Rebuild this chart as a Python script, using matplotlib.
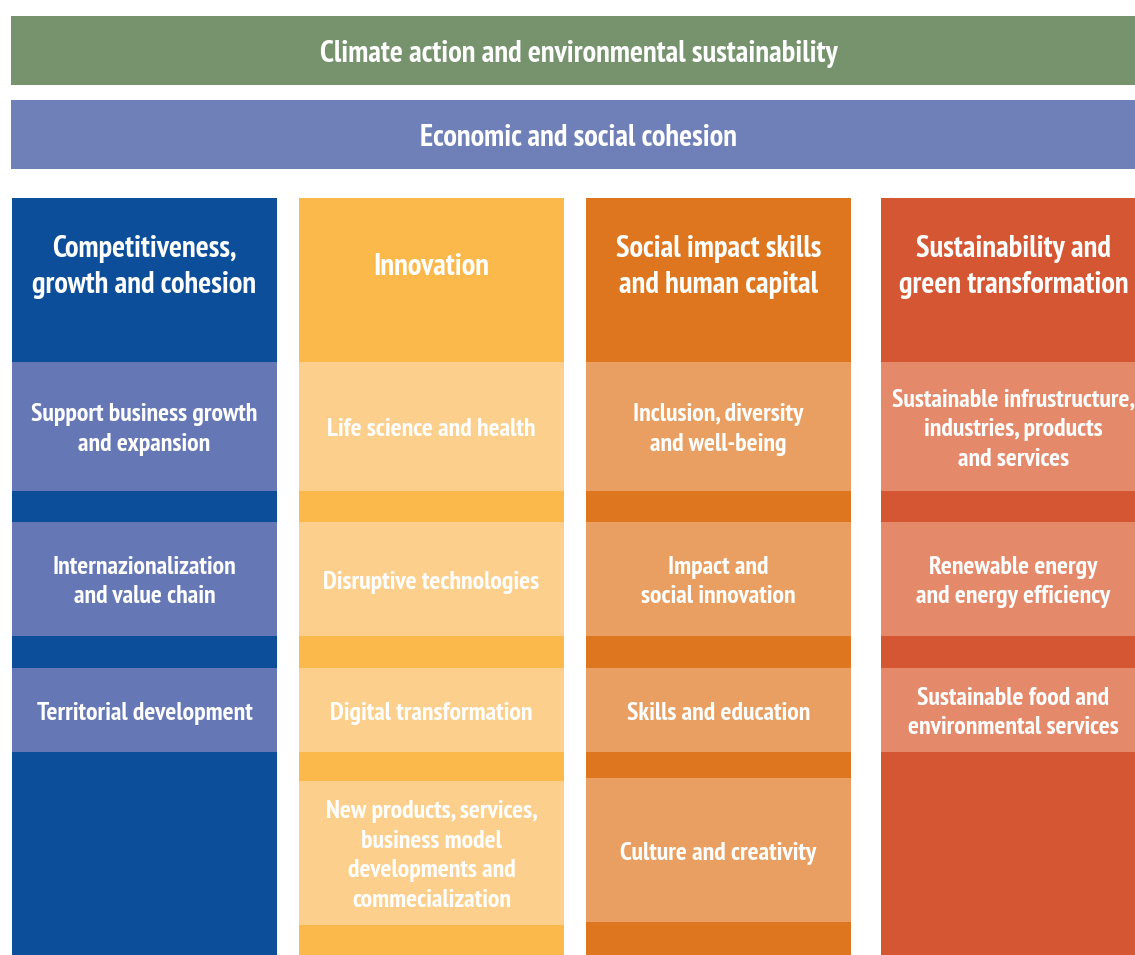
import matplotlib.pyplot as plt
from matplotlib.patches import Rectangle

# Banner texts
banners = ['Climate action and environmental sustainability',
           'Economic and social cohesion']
banner_colors = ['#76936E', '#6F80B9']

# Columns: title and the items listed under it
titles = ['Competitiveness,\ngrowth and cohesion',
          'Innovation',
          'Social impact skills\nand human capital',
          'Sustainability and\ngreen transformation']
items = [
    ['Support business growth\nand expansion',
     'Internazionalization\nand value chain',
     'Territorial development'],
    ['Life science and health',
     'Disruptive technologies',
     'Digital transformation',
     'New products, services,\nbusiness model\ndevelopments and\ncommecialization'],
    ['Inclusion, diversity\nand well-being',
     'Impact and\nsocial innovation',
     'Skills and education',
     'Culture and creativity'],
    ['Sustainable infrustructure,\nindustries, products\nand services',
     'Renewable energy\nand energy efficiency',
     'Sustainable food and\nenvironmental services'],
]
dark_colors = ['#0D4E9B', '#FBB84B', '#DD761E', '#D55633']
light_colors = ['#6677B5', '#FCD08C', '#E99F61', '#E5896B']

# layout (pixels)
W, H = 1135, 955
col_x = [12, 299, 586, 881]
col_w = 265
col_top = 198
banner_y = [(16, 85), (100, 169)]
item_rows = [(362, 491), (522, 636), (668, 752)]
last_rows = {1: (781, 925), 2: (778, 922)}

plt.rcParams['font.family'] = ['PT Sans Narrow', 'Roboto Condensed', 'DejaVu Sans']

fig = plt.figure(figsize=(W / 100, H / 100), dpi=100)
ax = fig.add_axes([0, 0, 1, 1])
ax.set_xlim(0, W)
ax.set_ylim(H, 0)
ax.axis('off')

for (y0, y1), text, c in zip(banner_y, banners, banner_colors):
    ax.add_patch(Rectangle((11, y0), 1140, y1 - y0, color=c, lw=0))
    ax.text(579, (y0 + y1) / 2 + 4, text, color='white', fontsize=22,
            fontweight='bold', ha='center', va='center')

for i, x in enumerate(col_x):
    cx = x + col_w / 2
    ax.add_patch(Rectangle((x, col_top), col_w, H - col_top,
                           color=dark_colors[i], lw=0))
    ax.text(cx, 267, titles[i], color='white', fontsize=22,
            fontweight='bold', ha='center', va='center', linespacing=1.38)
    rows = list(item_rows)
    if i in last_rows:
        rows.append(last_rows[i])
    for (y0, y1), label in zip(rows, items[i]):
        ax.add_patch(Rectangle((x, y0), col_w, y1 - y0,
                               color=light_colors[i], lw=0))
        ax.text(cx, (y0 + y1) / 2 + 3, label, color='white', fontsize=18.5,
                fontweight='bold', ha='center', va='center', linespacing=1.37)

fig.savefig('out.png', dpi=100)
